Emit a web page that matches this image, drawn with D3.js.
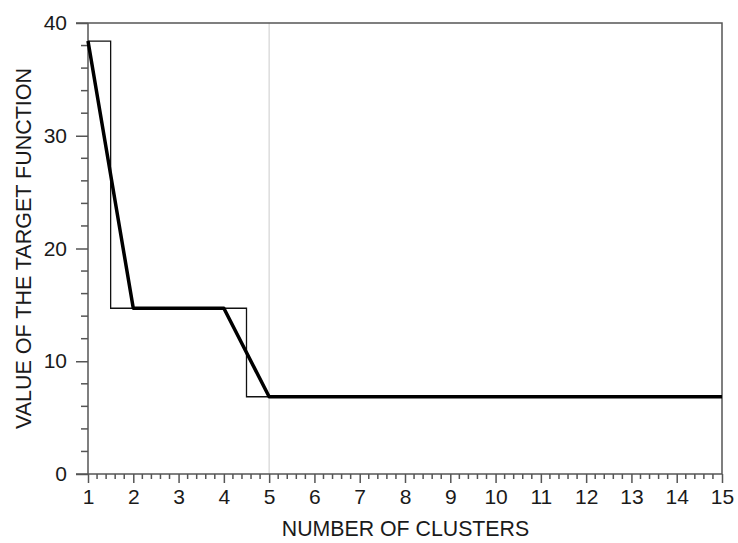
<!DOCTYPE html>
<html lang="en">
  <head>
    <meta charset="UTF-8" />
    <title>Target function vs clusters</title>
    <style>
      body { margin: 0; background: #fff; }
      text { font-family: "Liberation Sans", Arial, sans-serif; fill: #1a1a1a; }
    </style>
  </head>
  <body>
    <svg id="container" width="738" height="543"></svg>
  </body>
  <script src="https://cdn.jsdelivr.net/npm/d3@7"></script>
  <script>
    // number of clusters and value of the target function
    let clusters = [1, 2, 3, 4, 5, 6, 7, 8, 9, 10, 11, 12, 13, 14, 15];
    let stepValues = [38.4, 14.7, 14.7, 14.7, 6.85, 6.85, 6.85, 6.85, 6.85, 6.85, 6.85, 6.85, 6.85, 6.85, 6.85];
    let lineX = [1, 2, 4, 5, 15];
    let lineValues = [38.4, 14.7, 14.7, 6.85, 6.85];
    let yTicks = [0, 10, 20, 30, 40];

    let svg = d3.select("#container");
    let plotLeft = 88, plotRight = 722, plotTop = 23, plotBottom = 474;

    let x = d3.scaleLinear().domain([1, 15]).range([plotLeft, plotRight]);
    let y = d3.scaleLinear().domain([0, 40]).range([plotBottom, plotTop]);
    let axisColor = "#555";

    // grid line at 5 clusters
    svg.append("line")
      .attr("x1", x(5)).attr("x2", x(5)).attr("y1", plotTop).attr("y2", plotBottom)
      .attr("stroke", "#d4d4d4").attr("stroke-width", 1.2);

    // frame (top and right)
    svg.append("path")
      .attr("d", `M${plotLeft - 12},${plotTop}H${plotRight}V${plotBottom}`)
      .attr("fill", "none").attr("stroke", axisColor).attr("stroke-width", 1.5);

    // y axis: majors every 10, minors every 2
    let yAxis = svg.append("g").attr("transform", `translate(${plotLeft},0)`)
      .call(d3.axisLeft(y).tickValues(yTicks).tickSize(12).tickPadding(9));
    yAxis.append("g").selectAll("line").data(d3.range(2, 40, 2).filter(d => d % 10 !== 0))
      .enter().append("line")
      .attr("x1", -7).attr("x2", 0).attr("y1", d => y(d)).attr("y2", d => y(d));

    // x axis: majors every 1, minors every 0.2
    let xAxis = svg.append("g").attr("transform", `translate(0,${plotBottom})`)
      .call(d3.axisBottom(x).tickValues(clusters).tickSize(9).tickPadding(6));
    xAxis.append("g").selectAll("line").data(d3.range(1, 15, 0.2).filter(d => Math.abs(d - Math.round(d)) > 0.01))
      .enter().append("line")
      .attr("x1", d => x(d)).attr("x2", d => x(d)).attr("y1", 0).attr("y2", 5);

    [xAxis, yAxis].forEach(g => {
      g.selectAll("line").attr("stroke", axisColor).attr("stroke-width", 1.5);
      g.select(".domain").attr("stroke", axisColor).attr("stroke-width", 1.5);
      g.selectAll(".tick text").attr("font-size", 21).attr("fill", "#1a1a1a")
        .style("font-family", "'Liberation Sans', Arial, sans-serif");
    });
    xAxis.select(".domain").attr("d", `M${plotLeft - 12},0H${plotRight}`);
    yAxis.select(".domain").attr("d", `M0,${plotTop}V${plotBottom}`);

    // thin step line
    let stepLine = d3.line().x((d, i) => x(clusters[i])).y(d => y(d)).curve(d3.curveStep);
    svg.append("path").datum(stepValues).attr("d", stepLine)
      .attr("fill", "none").attr("stroke", "#111").attr("stroke-width", 1.3);

    // thick line
    let thickLine = d3.line().x((d, i) => x(lineX[i])).y(d => y(d));
    svg.append("path").datum(lineValues).attr("d", thickLine)
      .attr("fill", "none").attr("stroke", "#000").attr("stroke-width", 3.5)
      .attr("stroke-linejoin", "round");

    // axis titles
    svg.append("text").attr("x", 405.5).attr("y", 536)
      .attr("text-anchor", "middle").attr("font-size", 21.3).text("NUMBER OF CLUSTERS");
    svg.append("text").attr("transform", `translate(23,248.5) rotate(-90)`)
      .attr("text-anchor", "middle").attr("dy", "0.35em").attr("font-size", 21.5)
      .text("VALUE OF THE TARGET FUNCTION");
  </script>
</html>
